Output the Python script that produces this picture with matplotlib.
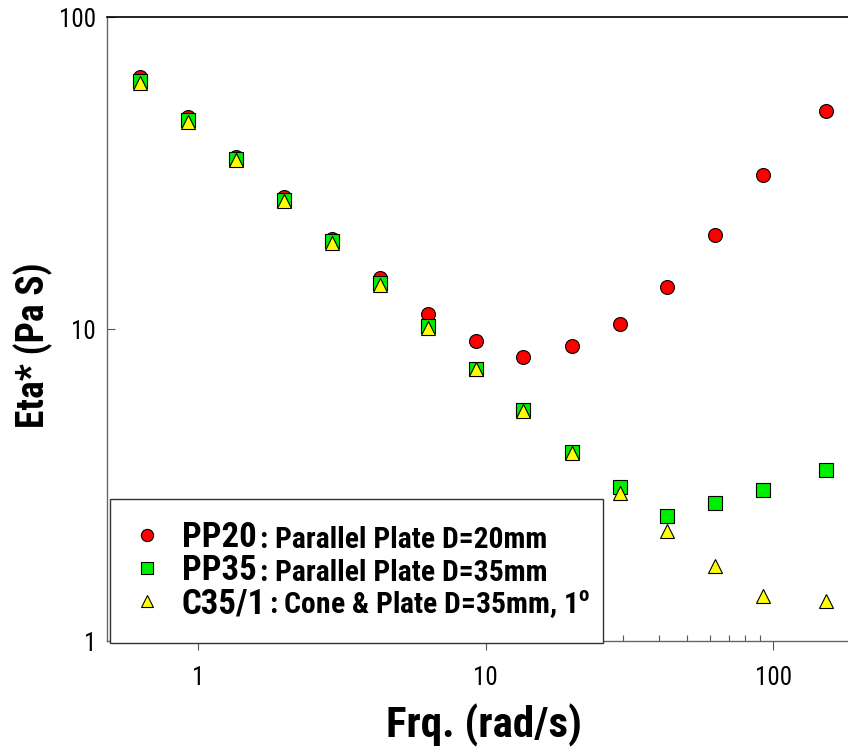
import matplotlib
matplotlib.use("Agg")
import matplotlib.pyplot as plt
import matplotlib.ticker as ticker

plt.rcParams["font.family"] = ["Roboto Condensed", "Liberation Sans", "DejaVu Sans"]
plt.rcParams["mathtext.fontset"] = "custom"
plt.rcParams["mathtext.rm"] = "Roboto Condensed"
plt.rcParams["mathtext.bf"] = "Roboto Condensed:bold"

# angular frequency (rad/s)
freq = [0.628, 0.922, 1.35, 1.99, 2.92, 4.28, 6.28, 9.22, 13.5, 19.9, 29.2, 42.8, 62.8, 92.2, 153]

# complex viscosity (Pa s) for each geometry
eta_pp20 = [64.3, 47.9, 35.6, 26.4, 19.4, 14.6, 11.2, 9.15, 8.15, 8.82, 10.4, 13.6, 20.0, 31.2, 50.1]
eta_pp35 = [62.2, 46.6, 35.1, 26.0, 19.1, 14.0, 10.2, 7.46, 5.49, 4.03, 3.12, 2.52, 2.77, 3.04, 3.53]
eta_c35 = [61.6, 46.2, 34.8, 25.8, 18.9, 13.8, 10.1, 7.43, 5.46, 4.02, 2.99, 2.26, 1.74, 1.39, 1.34]

series_names = ["PP20", "PP35", "C35/1"]
series_desc = [": Parallel Plate D=20mm",
               ": Parallel Plate D=35mm",
               r": Cone & Plate D=35mm, 1$^{\mathbf{o}}$"]

fig = plt.figure(figsize=(8.48, 7.5), dpi=100)
ax = fig.add_axes([0.1262, 0.1453, 0.8738, 0.832])

styles = [
    dict(marker="o", color="#ff0000", ms=10),
    dict(marker="s", color="#00ee00", ms=9.5),
    dict(marker="^", color="#ffff00", ms=9.5),
]
handles = []
for y, st in zip([eta_pp20, eta_pp35, eta_c35], styles):
    (h,) = ax.plot(freq, y, linestyle="none", marker=st["marker"], ms=st["ms"],
                   markerfacecolor=st["color"], markeredgecolor="black",
                   markeredgewidth=0.8)
    handles.append(h)

ax.set_xscale("log")
ax.set_yscale("log")
ax.set_xlim(0.4814, 181.9)
ax.set_ylim(1, 100)

ax.xaxis.set_major_locator(ticker.FixedLocator([1, 10, 100]))
ax.xaxis.set_minor_locator(ticker.LogLocator(base=10, subs=range(2, 10)))
ax.xaxis.set_minor_formatter(ticker.NullFormatter())
ax.xaxis.set_major_formatter(ticker.FuncFormatter(lambda v, _: f"{v:g}"))
ax.yaxis.set_major_locator(ticker.FixedLocator([1, 10, 100]))
ax.yaxis.set_minor_locator(ticker.NullLocator())
ax.yaxis.set_major_formatter(ticker.FuncFormatter(lambda v, _: f"{v:g}"))

ax.tick_params(axis="x", which="major", direction="out", length=6.2, width=0.8,
               color="#555555", pad=12, labelsize=18, top=False)
ax.tick_params(axis="x", which="minor", direction="in", length=4.5, width=0.8,
               color="#555555", top=False)
ax.tick_params(axis="y", which="major", direction="in", length=6, width=0.8,
               color="#555555", pad=8, labelsize=18, right=False)

ax.spines["right"].set_visible(False)
ax.spines["top"].set_color("black")
ax.spines["top"].set_linewidth(1.2)
for side in ["left", "bottom"]:
    ax.spines[side].set_color("#666666")
    ax.spines[side].set_linewidth(1.0)

ax.set_xlabel("Frq. (rad/s)", fontsize=31, fontweight="bold", ha="center", va="center")
ax.xaxis.set_label_coords(0.509, -0.1346)
ax.set_ylabel("Eta* (Pa S)", fontsize=27, fontweight="bold", ha="center", va="center")
ax.yaxis.set_label_coords(-0.0999, 0.474)

leg = ax.legend(handles, series_names, loc="lower left",
                bbox_to_anchor=(0.004, -0.003, 0.665, 0.2), mode="expand",
                borderaxespad=0, prop=dict(size=25, weight="bold"),
                handlelength=0.85, handletextpad=0.56, borderpad=0.65,
                labelspacing=0.0, frameon=True, fancybox=False,
                edgecolor="#333333", framealpha=1, markerscale=0.88)
leg.get_frame().set_linewidth(1.0)

for txt, desc in zip(leg.get_texts(), series_desc):
    ax.annotate(desc, xy=(1, 0), xycoords=txt, xytext=(2.5, 0),
                textcoords="offset points", ha="left", va="bottom",
                fontsize=21.3, fontweight="bold", zorder=6)

fig.savefig("out.png", dpi=100)
